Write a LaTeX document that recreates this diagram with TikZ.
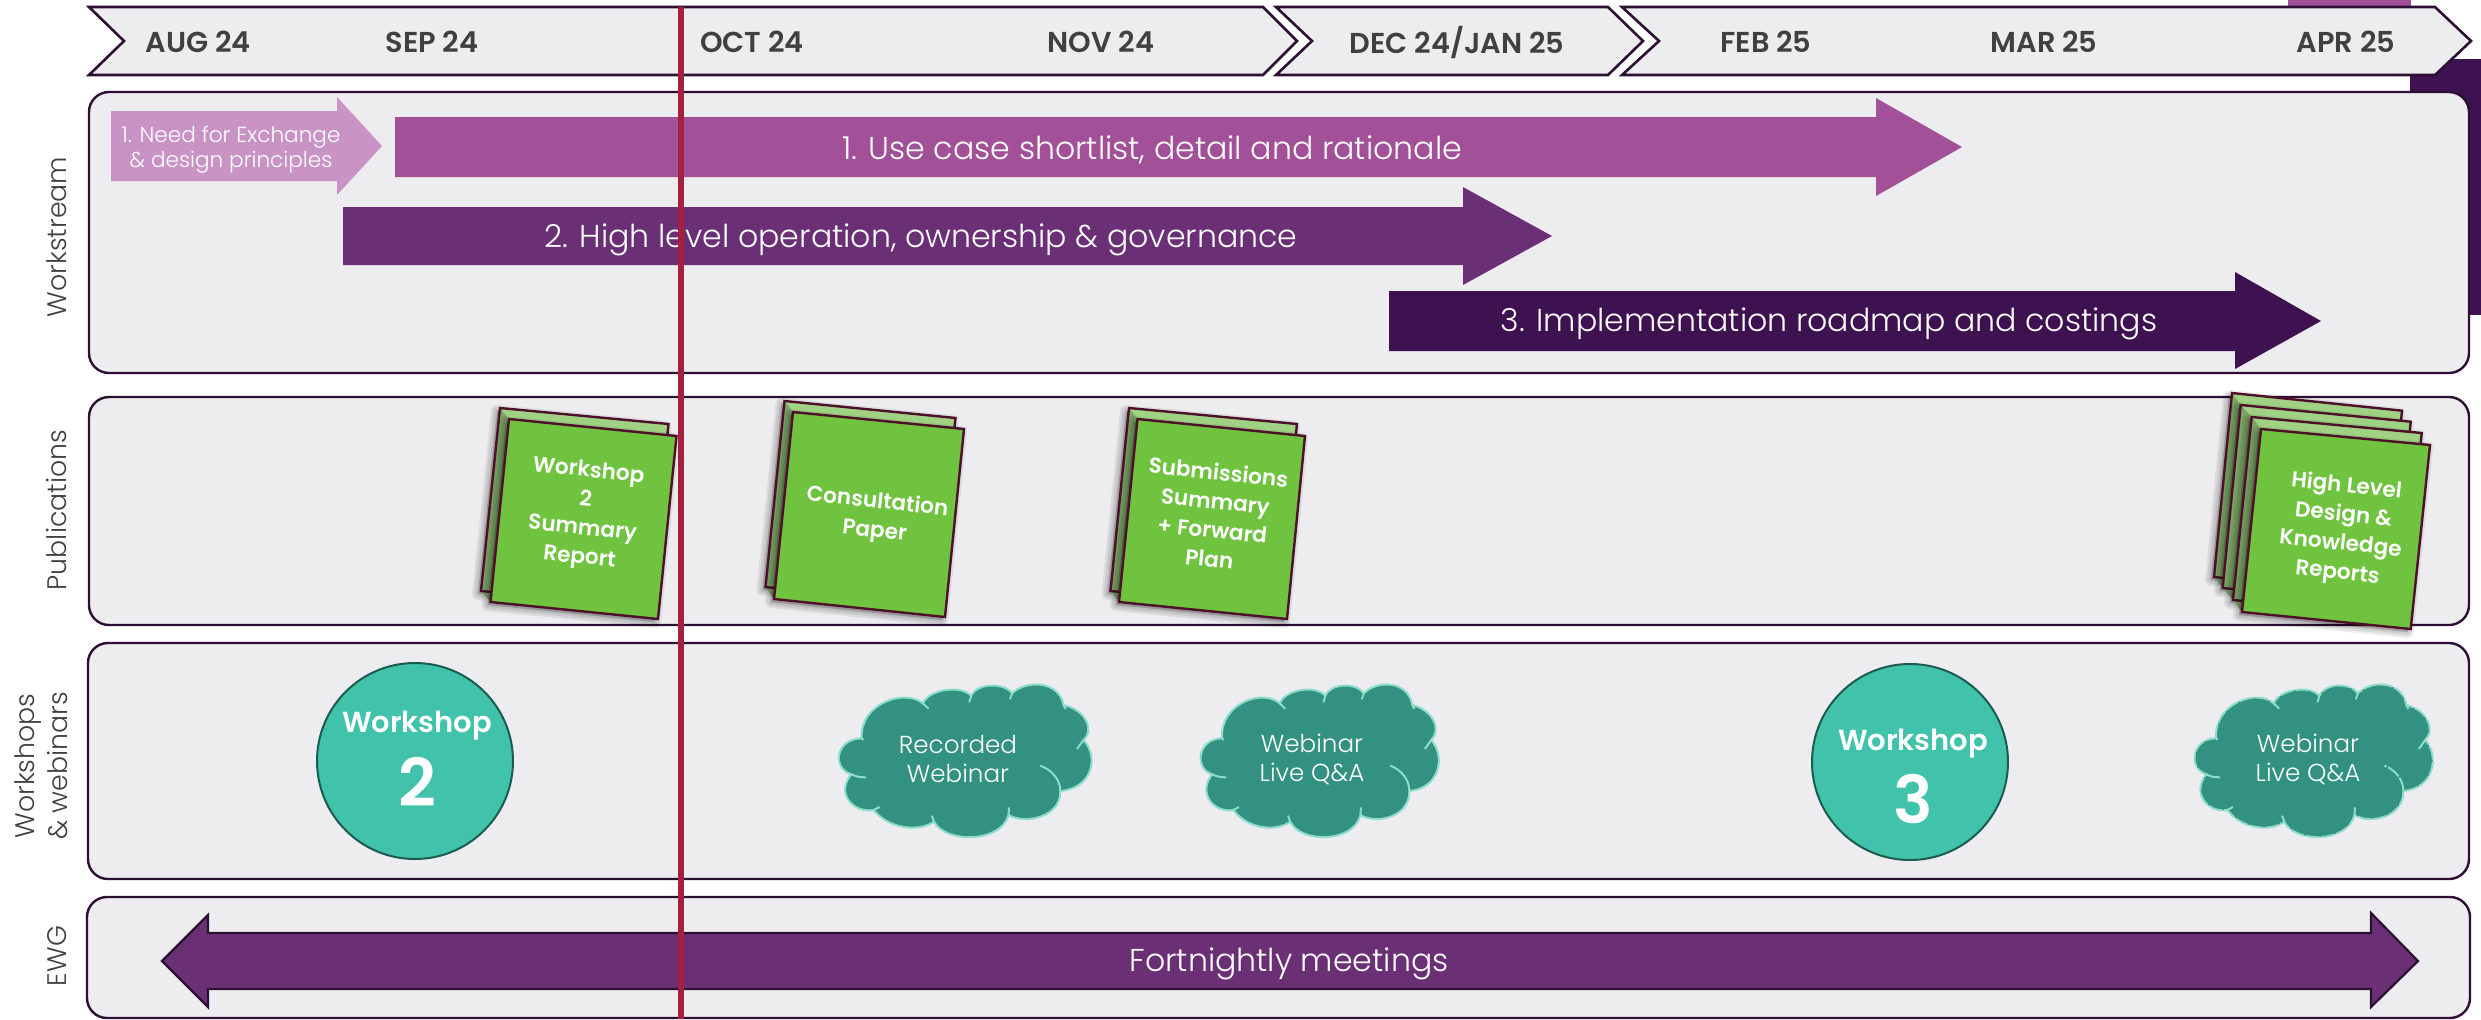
\documentclass[tikz,border=0pt]{standalone}
\usepackage{fontspec}
\setmainfont{Poppins}
\newfontfamily\lightf{Poppins Light}
\newfontfamily\semif{Poppins SemiBold}
\definecolor{panelc}{HTML}{EDEDEF}
\definecolor{edgec}{HTML}{2D0F33}
\definecolor{greyt}{HTML}{404040}
\definecolor{arrowa}{HTML}{C994C5}
\definecolor{arrowb}{HTML}{A25098}
\definecolor{arrowc}{HTML}{6B2F76}
\definecolor{arrowd}{HTML}{3E1151}
\definecolor{nowred}{HTML}{A5203F}
\definecolor{docg}{HTML}{6FC33F}
\definecolor{docl}{HTML}{A0D284}
\definecolor{docd}{HTML}{7BA466}
\definecolor{docedge}{HTML}{4E1028}
\definecolor{wsfill}{HTML}{41C2AB}
\definecolor{wsedge}{HTML}{1B5C50}
\definecolor{cloudf}{HTML}{329180}
\definecolor{cloude}{HTML}{8EDDCB}
\tikzset{
  panelbox/.style={fill=panelc,draw=edgec,line width=1.2pt,rounded corners=10pt},
  chevronbox/.style={fill=panelc,draw=edgec,line width=1.3pt,miter limit=10},
  month/.style={text=greyt,font=\semif\fontsize{14.4}{16}\selectfont,inner sep=0pt},
  sidelabel/.style={text=greyt,rotate=90,align=center,font=\lightf\fontsize{13.4}{16.5}\selectfont,inner sep=0pt},
  arrowtext/.style={text=white,inner sep=0pt,font=\lightf\fontsize{15.8}{18}\selectfont},
  smallarrowtext/.style={text=white,inner sep=0pt,align=center,font=\lightf\fontsize{10.8}{12.5}\selectfont},
  doctext/.style={text=white,rotate=-6,align=center,inner sep=0pt,font=\semif\fontsize{10.8}{14.5}\selectfont},
  workshopname/.style={text=white,inner sep=0pt,font=\semif\fontsize{14.5}{16}\selectfont},
  workshopnum/.style={text=white,inner sep=0pt,font=\semif\fontsize{33}{35}\selectfont},
  workshopring/.style={circle,fill=wsfill,draw=wsedge,line width=1pt,minimum size=98pt,inner sep=0pt},
  cloudtext/.style={text=white,align=center,inner sep=0pt,font=\lightf\fontsize{12.3}{14.5}\selectfont},
  cloudline/.style={draw=cloude,line width=1pt},
}
\newcommand{\lobes}{(183,235)
 .. controls (178,130) and (280,85) .. (320,130)
 .. controls (335,85) and (410,75) .. (428,108)
 .. controls (440,70) and (500,65) .. (520,100)
 .. controls (550,60) and (625,60) .. (635,135)
 .. controls (685,150) and (705,210) .. (680,240)
 .. controls (715,290) and (700,385) .. (628,393)
 .. controls (630,470) and (550,495) .. (512,465)
 .. controls (495,550) and (370,550) .. (345,485)
 .. controls (315,515) and (245,510) .. (210,450)
 .. controls (160,460) and (125,395) .. (160,343)
 .. controls (115,325) and (125,235) .. (183,235) -- cycle}
\newcommand{\lobeinner}{
 (320,130) -- (333,146) (428,108) -- (424,127) (520,100) -- (515,118)
 (635,135) -- (640,147) (680,240) -- (665,267)
 (628,393) .. controls (628,360) and (610,330) .. (583,317)
 (512,465) -- (513,442) (345,485) -- (340,467) (210,450) -- (223,441)
 (160,343) .. controls (170,350) and (180,352) .. (193,352) (183,235) -- (187,240)}
% #1 shift, #2 xscale, #3 extra style for the outline
\newcommand{\cloudat}[3]{%
 \begin{scope}[shift={#1},xscale=#2,yscale=0.3333]
  \fill[cloudf] \lobes;
  \draw[cloudline,#3] \lobes;
  \draw[cloudline,#3] \lobeinner;
 \end{scope}}
\newcommand{\softshadow}[4]{%
 \begin{scope}[shift={(-3,3)}]
 \foreach \w in {6pt,4pt,2pt}{\draw[black,opacity=.07,line width=\w,line join=round,fill=black] #1 -- #2 -- #3 -- #4 -- cycle;}
 \end{scope}}
% TL TR BR BL of a back sheet, then TL and BL of the sheet above it
\newcommand{\backsheet}[6]{%
 \softshadow{#1}{#2}{#3}{#4}
 \fill[docl] #1 -- #2 -- #3 -- #4 -- cycle;
 \fill[docd] #1 -- #5 -- #6 -- #4 -- cycle;
 \draw[docedge,line width=1.2pt] #1 -- #2 -- #3 -- #4 -- cycle;}
\newcommand{\frontsheet}[4]{%
 \softshadow{#1}{#2}{#3}{#4}
 \draw[docedge,fill=docg,line width=1.2pt] #1 -- #2 -- #3 -- #4 -- cycle;}
\begin{document}
\begin{tikzpicture}[x=0.5pt,y=-0.5pt]
\useasboundingbox (0,0) rectangle (2481,1019);
\fill[white] (0,0) rectangle (2481,1019);
% pieces behind the timeline
\fill[arrowb] (2288,0) rectangle (2411,10);
\fill[arrowd] (2410,59) rectangle (2481,315);
% timeline
\draw[chevronbox] (89,7) -- (1263,7) -- (1297,41) -- (1263,75) -- (89,75) -- (124,41) -- cycle;
\draw[chevronbox] (1276,7) -- (1608,7) -- (1643,41) -- (1608,75) -- (1276,75) -- (1312,41) -- cycle;
\draw[chevronbox] (1622,7) -- (2435,7) -- (2471,41) -- (2435,75) -- (1622,75) -- (1659,41) -- cycle;
\node[month] (m1) at (198,42) {AUG 24};
\node[month] (m2) at (432,42) {SEP 24};
\node[month] (m3) at (752,42) {OCT 24};
\node[month] (m4) at (1101,42) {NOV 24};
\node[month] (m5) at (1457,42) {DEC 24/JAN 25};
\node[month] (m6) at (1766,42) {FEB 25};
\node[month] (m7) at (2044,42) {MAR 25};
\node[month] (m8) at (2346,42) {APR 25};
% panels
\draw[panelbox] (89,92) rectangle (2469,373);
\draw[panelbox] (89,397) rectangle (2469,625);
\draw[panelbox] (88,643) rectangle (2469,879);
\draw[panelbox] (87,897) rectangle (2470,1018);
% side labels
\node[sidelabel] (lw) at (57,237) {Workstream};
\node[sidelabel] (lp) at (57,510) {Publications};
\node[sidelabel] (ls) at (41,766) {Workshops\\\& webinars};
\node[sidelabel] (le) at (57,956) {EWG};
% workstream arrows
\fill[arrowa] (111,111) -- (337,111) -- (337,97) -- (382,146) -- (337,195) -- (337,181) -- (111,181) -- cycle;
\fill[arrowb] (395,117) -- (1876,117) -- (1876,98) -- (1962,147) -- (1876,196) -- (1876,177) -- (395,177) -- cycle;
\fill[arrowc] (343,207) -- (1463,207) -- (1463,187) -- (1552,236) -- (1463,285) -- (1463,265) -- (343,265) -- cycle;
\fill[arrowd] (1389,291) -- (2235,291) -- (2235,272) -- (2321,321) -- (2235,369) -- (2235,351) -- (1389,351) -- cycle;
\node[smallarrowtext] (a0) at (231,150) {1. Need for Exchange\\\& design principles};
\node[arrowtext] (a1) at (1152,150) {1. Use case shortlist, detail and rationale};
\node[arrowtext] (a2) at (921,240) {2. High level operation, ownership \& governance};
\node[arrowtext] (a3) at (1829,324) {3. Implementation roadmap and costings};
% publications
\backsheet{(500,408)}{(668.5,424)}{(649.5,607)}{(481,591)}{(509,419)}{(490.5,602)}
\frontsheet{(509,419)}{(676.5,436)}{(658,619)}{(490.5,602)}
\node[doctext] (d1) at (584,515) {Workshop\\2\\Summary\\Report};
\backsheet{(784.5,401)}{(955.5,418)}{(936,605)}{(765.5,587)}{(793,412)}{(774,599)}
\frontsheet{(793,412)}{(964,429)}{(945,617)}{(774,599)}
\node[doctext] (d2) at (876,517) {Consultation\\Paper};
\backsheet{(1129,408)}{(1297,424)}{(1278,607)}{(1110.5,591)}{(1137.5,419)}{(1119,602)}
\frontsheet{(1137.5,419)}{(1305,436)}{(1287,619)}{(1119,602)}
\node[doctext] (d3) at (1214,515) {Submissions\\Summary\\+ Forward\\Plan};
\backsheet{(2232,393)}{(2402,410.7)}{(2384,595)}{(2214,577)}{(2240.7,405)}{(2222.7,588)}
\backsheet{(2240.7,405)}{(2410.7,421.7)}{(2392.7,605)}{(2222.7,588)}{(2251.7,417)}{(2233,600)}
\backsheet{(2251.7,417)}{(2421.7,433)}{(2403,616)}{(2233,600)}{(2261,429)}{(2242,612)}
\frontsheet{(2261,429)}{(2430,445)}{(2410.7,629)}{(2242,612)}
\node[doctext] (d4) at (2342,530) {High Level\\Design \&\\Knowledge\\Reports};
% workshops and webinars
\node[workshopring] (w2) at (415,761) {};
\node[workshopname] (w2a) at (417,726) {Workshop};
\node[workshopnum] (w2b) at (417,782) {2};
\node[workshopring] (w3) at (1910,762) {};
\node[workshopname] (w3a) at (1913,744) {Workshop};
\node[workshopnum] (w3b) at (1913,799) {3};
\cloudat{(780,660)}{0.4464}{}
\node[cloudtext] (c1) at (958,759) {Recorded\\Webinar};
\cloudat{(1145,660)}{0.4209}{}
\node[cloudtext] (c2) at (1312,759) {Webinar\\Live Q\&A};
\cloudat{(2139,660)}{0.4209}{dash pattern=on 7pt off 0.8pt}
\node[cloudtext] (c3) at (2308,759) {Webinar\\Live Q\&A};
% EWG
\draw[fill=arrowc,draw=edgec,line width=1.1pt] (162,961) -- (208,915) -- (208,933) -- (2371,933) -- (2371,913) -- (2418,961) -- (2371,1007) -- (2371,989) -- (208,989) -- (208,1007) -- cycle;
\node[arrowtext] (e1) at (1289,964) {Fortnightly meetings};
% today line
\coordinate (nowtop) at (680.5,7);
\coordinate (nowbot) at (680.5,1019);
\draw[nowred,line width=3pt] (nowtop) -- (nowbot);
\end{tikzpicture}
\end{document}
